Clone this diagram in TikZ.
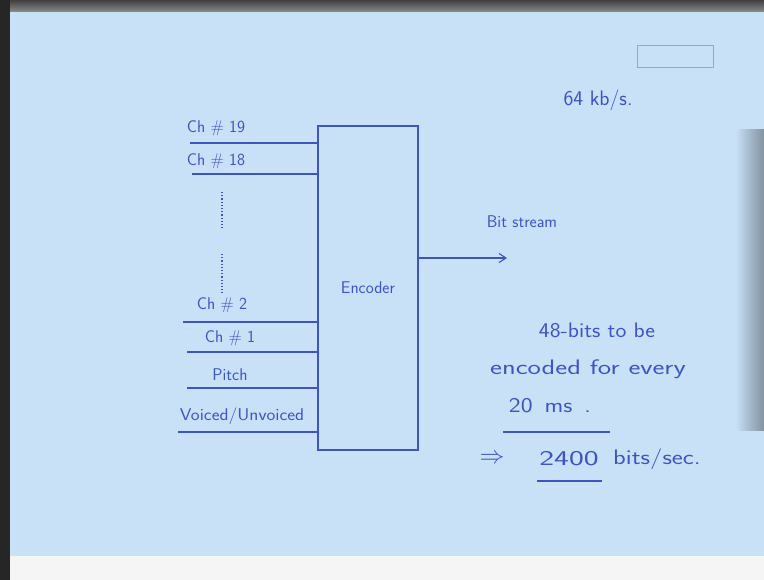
\documentclass[tikz,border=0pt]{standalone}
\usepackage{tikz}
\usetikzlibrary{arrows.meta}

\definecolor{paper}{RGB}{201,225,247}
\definecolor{ink}{RGB}{62,84,192}

\tikzset{
  wire/.style={draw=ink,line width=1.1pt},
  hand/.style={text=ink,inner sep=1pt,font=\sffamily\fontsize{17}{19}\selectfont},
  note/.style={text=ink,inner sep=1pt,font=\sffamily\fontsize{21}{23}\selectfont},
}

\begin{document}
\begin{tikzpicture}[x=1pt,y=-1pt]
      \useasboundingbox (0,0) rectangle (764,580);

      % Photo background
      \fill[black!4] (0,0) rectangle (764,580);
      \fill[paper] (10,12) rectangle (764,556);
      \shade[left color=paper,right color=black!35!paper] (735,130) rectangle (764,430);
      \fill[black!85] (0,0) rectangle (10,580);
      \shade[top color=black!75,bottom color=black!45] (10,0) rectangle (764,12);

      % Logo stamp
      \draw[black!35,line width=0.8pt] (637,45) rectangle (713,67);

      % Encoder block
      \node[draw=ink,line width=1.1pt,minimum width=100pt,minimum height=324pt,
            inner sep=0,hand] (enc) at (368,288) {Encoder};

      % Input channels
      \coordinate (c19) at (190,143);
      \coordinate (c18) at (192,174);
      \coordinate (c2) at (183,322);
      \coordinate (c1) at (187,352);
      \coordinate (cp) at (187,388);
      \coordinate (cv) at (178,432);

      \draw[wire] (c19) -- (c19 -| enc.west);
      \draw[wire] (c18) -- (c18 -| enc.west);
      \draw[wire] (c2) -- (c2 -| enc.west);
      \draw[wire] (c1) -- (c1 -| enc.west);
      \draw[wire] (cp) -- (cp -| enc.west);
      \draw[wire] (cv) -- (cv -| enc.west);

      \node[hand] (l19) at (216,128) {Ch \# 19};
      \node[hand] (l18) at (216,161) {Ch \# 18};
      \node[hand] (l2) at (222,305) {Ch \# 2};
      \node[hand] (l1) at (230,338) {Ch \# 1};
      \node[hand] (lp) at (230,375) {Pitch};
      \node[hand] (lv) at (242,416) {\scalebox{1.1}[1]{Voiced/Unvoiced}};

      % Omitted channels
      \draw[ink,line width=1.2pt,dotted] (222,192) -- (222,228);
      \draw[ink,line width=1.2pt,dotted] (222,254) -- (222,293);

      % Output
      \coordinate (out) at (507,258);
      \draw[wire,-{Straight Barb[length=7pt,width=9pt]}] (enc.east |- out) -- (out);
      \node[hand] (bits) at (522,222) {Bit stream};

      % Rate notes
      \node[note] (rate) at (598,100) {64 kb/s.};
      \node[note] (n1) at (597,330) {\scalebox{1.1}[1]{48-bits to be}};
      \node[note] (n2) at (588,369) {\scalebox{1.35}[1]{encoded for every}};
      \node[note] (n3) at (550,406) {\scalebox{1.2}[1]{20\hspace{10pt}ms\hspace{10pt}.}};
      \node[note,font=\sffamily\fontsize{24}{24}\selectfont] (impl) at (492,459) {$\Rightarrow$};
      \node[note] (n4) at (569,459) {\scalebox{1.5}[1]{2400}};
      \node[note] (n5) at (657,459) {\scalebox{1.25}[1]{bits/sec.}};

      % Underlines
      \coordinate (u1a) at (503,432);
      \coordinate (u1b) at (610,432);
      \coordinate (u2a) at (537,481);
      \coordinate (u2b) at (602,481);
      \draw[wire,line width=1.8pt] (u1a) -- (u1b);
      \draw[wire,line width=1.8pt] (u2a) -- (u2b);
\end{tikzpicture}
\end{document}
